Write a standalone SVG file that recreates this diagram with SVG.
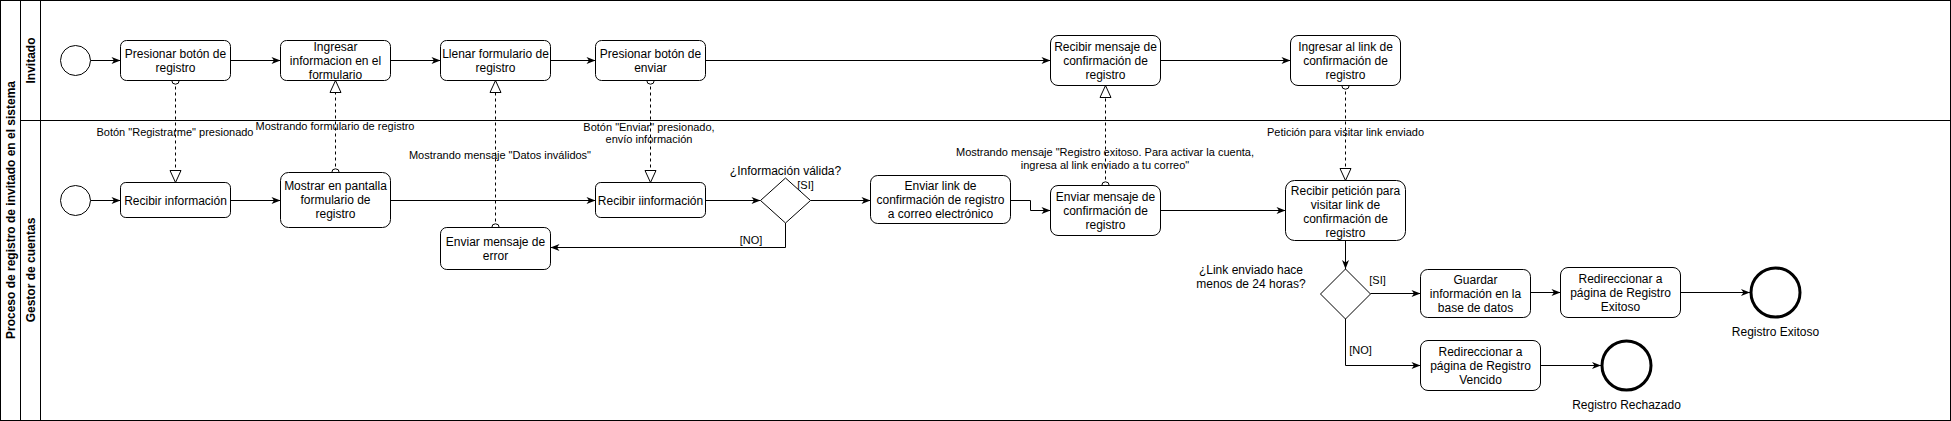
<svg xmlns="http://www.w3.org/2000/svg" width="1951" height="421" viewBox="0 0 1951 421">
<style>
  .box { fill: #ffffff; stroke: #000000; stroke-width: 1; }
  .ev { fill: #ffffff; stroke: #000000; stroke-width: 1; }
  .end { fill: #ffffff; stroke: #000000; stroke-width: 3; }
  .t { font-family: "Liberation Sans", Arial, Helvetica, sans-serif; font-size: 12px; fill: #000000; text-anchor: middle; }
  .lbl { font-family: "Liberation Sans", Arial, Helvetica, sans-serif; font-size: 11px; fill: #000000; text-anchor: middle; }
  .title { font-family: "Liberation Sans", Arial, Helvetica, sans-serif; font-size: 12px; font-weight: bold; fill: #000000; text-anchor: middle; dominant-baseline: central; }
  .flow { fill: none; stroke: #000000; stroke-width: 1; marker-end: url(#arr); }
  .msg { fill: none; stroke: #000000; stroke-width: 1; stroke-dasharray: 3 3; marker-start: url(#oval); marker-end: url(#open); }
  .frame { fill: none; stroke: #000000; stroke-width: 1; }
</style>
<defs>
  <marker id="arr" markerUnits="userSpaceOnUse" markerWidth="10" markerHeight="8" refX="9" refY="3.5" orient="auto" overflow="visible">
    <path d="M0,0 L9,3.5 L0,7 L2.5,3.5 Z" fill="#000000" stroke="none"/>
  </marker>
  <marker id="open" markerUnits="userSpaceOnUse" markerWidth="14" markerHeight="13" refX="12" refY="5.5" orient="auto" overflow="visible">
    <path d="M0,0 L12,5.5 L0,11 Z" fill="#ffffff" stroke="#000000" stroke-width="1" stroke-dasharray="none"/>
  </marker>
  <marker id="oval" markerUnits="userSpaceOnUse" markerWidth="10" markerHeight="10" refX="4.5" refY="4.5" orient="auto" overflow="visible">
    <circle cx="4.5" cy="4.5" r="3.7" fill="#ffffff" stroke="#000000" stroke-width="1" stroke-dasharray="none"/>
  </marker>
</defs>
<rect width="1951" height="421" fill="#ffffff"/>

<g id="pool">
  <rect class="frame" x="0.5" y="0.5" width="1950" height="420"/>
  <line class="frame" x1="20.5" y1="0.5" x2="20.5" y2="420.5"/>
  <line class="frame" x1="40.5" y1="0.5" x2="40.5" y2="420.5"/>
  <line class="frame" x1="20.5" y1="120.5" x2="1950.5" y2="120.5"/>
  <text class="title" transform="translate(11,210) rotate(-90)">Proceso de registro de invitado en el sistema</text>
</g>
<g id="lane-invitado">
  <text class="title" transform="translate(31,60.5) rotate(-90)">Invitado</text>
</g>
<g id="lane-gestor">
  <text class="title" transform="translate(31,270) rotate(-90)">Gestor de cuentas</text>
</g>

<g id="connectors">
  <path class="flow" d="M90.5,60.5 H120.5"/>
  <path class="flow" d="M230.5,60.5 H280.5"/>
  <path class="flow" d="M390.5,60.5 H440.5"/>
  <path class="flow" d="M550.5,60.5 H595.5"/>
  <path class="flow" d="M705.5,60.5 H1050.5"/>
  <path class="flow" d="M1160.5,60.5 H1290.5"/>
  <path class="flow" d="M90.5,200.5 H120.5"/>
  <path class="flow" d="M230.5,200.5 H280.5"/>
  <path class="flow" d="M390.5,200.5 H595.5"/>
  <path class="flow" d="M705.5,200.5 H760.5"/>
  <path class="flow" d="M810.5,200.5 H870.5"/>
  <path class="flow" d="M1010.5,200.5 H1030.5 V210.5 H1050.5"/>
  <path class="flow" d="M1160.5,210.5 H1285.5"/>
  <path class="flow" d="M785.5,223 V247.5 H550.5"/>
  <path class="flow" d="M1345.5,240.5 V269"/>
  <path class="flow" d="M1370.5,293.5 H1420.5"/>
  <path class="flow" d="M1530.5,292.5 H1560.5"/>
  <path class="flow" d="M1680.5,292.5 H1750"/>
  <path class="flow" d="M1345.5,319 V365.5 H1420.5"/>
  <path class="flow" d="M1540.5,365.5 H1601"/>

  <path class="msg" d="M175.5,80.5 V182.5"/>
  <path class="msg" d="M335.5,172.5 V80.5"/>
  <path class="msg" d="M495.5,227.5 V80.5"/>
  <path class="msg" d="M650.5,80.5 V182.5"/>
  <path class="msg" d="M1105.5,185.5 V85.5"/>
  <path class="msg" d="M1345.5,85.5 V180.5"/>

  <text class="lbl" x="175" y="136">Botón "Registrarme" presionado</text>
  <text class="lbl" x="335" y="130">Mostrando formulario de registro</text>
  <text class="lbl" x="500" y="159">Mostrando mensaje "Datos inválidos"</text>
  <text class="lbl" x="649" y="130.5">Botón "Enviar" presionado,</text>
  <text class="lbl" x="649" y="143">envío información</text>
  <text class="lbl" x="1105" y="156">Mostrando mensaje "Registro exitoso. Para activar la cuenta,</text>
  <text class="lbl" x="1105" y="169">ingresa al link enviado a tu correo"</text>
  <text class="lbl" x="1345.5" y="136">Petición para visitar link enviado</text>
  <text class="lbl" x="805.5" y="189">[SI]</text>
  <text class="lbl" x="751" y="244">[NO]</text>
  <text class="lbl" x="1377.5" y="284">[SI]</text>
  <text class="lbl" x="1360.5" y="354">[NO]</text>
</g>

<g id="start-invitado"><circle class="ev" cx="75.5" cy="60.5" r="15"/></g>
<g id="start-gestor"><circle class="ev" cx="75.5" cy="200.5" r="15"/></g>

<g id="presionar-registro">
  <rect class="box" x="120.5" y="40.5" width="110" height="40" rx="6"/>
  <text class="t" x="175.5" y="57.5">Presionar botón de<tspan x="175.5" dy="14">registro</tspan></text>
</g>
<g id="ingresar-info">
  <rect class="box" x="280.5" y="40.5" width="110" height="40" rx="6"/>
  <text class="t" x="335.5" y="50.5">Ingresar<tspan x="335.5" dy="14">informacion en el</tspan><tspan x="335.5" dy="14">formulario</tspan></text>
</g>
<g id="llenar-formulario">
  <rect class="box" x="440.5" y="40.5" width="110" height="40" rx="6"/>
  <text class="t" x="495.5" y="57.5">Llenar formulario de<tspan x="495.5" dy="14">registro</tspan></text>
</g>
<g id="presionar-enviar">
  <rect class="box" x="595.5" y="40.5" width="110" height="40" rx="6"/>
  <text class="t" x="650.5" y="57.5">Presionar botón de<tspan x="650.5" dy="14">enviar</tspan></text>
</g>
<g id="recibir-mensaje">
  <rect class="box" x="1050.5" y="35.5" width="110" height="50" rx="7.5"/>
  <text class="t" x="1105.5" y="50.5">Recibir mensaje de<tspan x="1105.5" dy="14">confirmación de</tspan><tspan x="1105.5" dy="14">registro</tspan></text>
</g>
<g id="ingresar-link">
  <rect class="box" x="1290.5" y="35.5" width="110" height="50" rx="7.5"/>
  <text class="t" x="1345.5" y="50.5">Ingresar al link de<tspan x="1345.5" dy="14">confirmación de</tspan><tspan x="1345.5" dy="14">registro</tspan></text>
</g>

<g id="recibir-informacion">
  <rect class="box" x="120.5" y="182.5" width="110" height="35" rx="5.25"/>
  <text class="t" x="175.5" y="204.5">Recibir información</text>
</g>
<g id="mostrar-formulario">
  <rect class="box" x="280.5" y="172.5" width="110" height="55" rx="8"/>
  <text class="t" x="335.5" y="190">Mostrar en pantalla<tspan x="335.5" dy="14">formulario de</tspan><tspan x="335.5" dy="14">registro</tspan></text>
</g>
<g id="recibir-iinformacion">
  <rect class="box" x="595.5" y="182.5" width="110" height="35" rx="5.25"/>
  <text class="t" x="650.5" y="204.5">Recibir iinformación</text>
</g>
<g id="enviar-error">
  <rect class="box" x="440.5" y="227.5" width="110" height="42" rx="6.3"/>
  <text class="t" x="495.5" y="245.5">Enviar mensaje de<tspan x="495.5" dy="14">error</tspan></text>
</g>
<g id="valida">
  <path class="box" d="M785.5,178 L810.5,200.5 L785.5,223 L760.5,200.5 Z"/>
  <text class="t" x="785.5" y="175">¿Información válida?</text>
</g>
<g id="enviar-link">
  <rect class="box" x="870.5" y="175.5" width="140" height="48" rx="7.2"/>
  <text class="t" x="940.5" y="189.5">Enviar link de<tspan x="940.5" dy="14">confirmación de registro</tspan><tspan x="940.5" dy="14">a correo electrónico</tspan></text>
</g>
<g id="enviar-mensaje">
  <rect class="box" x="1050.5" y="185.5" width="110" height="50" rx="7.5"/>
  <text class="t" x="1105.5" y="200.5">Enviar mensaje de<tspan x="1105.5" dy="14">confirmación de</tspan><tspan x="1105.5" dy="14">registro</tspan></text>
</g>
<g id="recibir-peticion">
  <rect class="box" x="1285.5" y="180.5" width="120" height="60" rx="9"/>
  <text class="t" x="1345.5" y="194.5">Recibir petición para<tspan x="1345.5" dy="14">visitar link de</tspan><tspan x="1345.5" dy="14">confirmación de</tspan><tspan x="1345.5" dy="14">registro</tspan></text>
</g>
<g id="link-24h">
  <path class="box" d="M1345.5,269 L1370.5,294 L1345.5,319 L1320.5,294 Z"/>
  <text class="t" x="1251" y="273.5">¿Link enviado hace<tspan x="1251" dy="14">menos de 24 horas?</tspan></text>
</g>
<g id="guardar">
  <rect class="box" x="1420.5" y="269.5" width="110" height="48" rx="7.2"/>
  <text class="t" x="1475.5" y="283.5">Guardar<tspan x="1475.5" dy="14">información en la</tspan><tspan x="1475.5" dy="14">base de datos</tspan></text>
</g>
<g id="redir-exitoso">
  <rect class="box" x="1560.5" y="267.5" width="120" height="50" rx="7.5"/>
  <text class="t" x="1620.5" y="282.5">Redireccionar a<tspan x="1620.5" dy="14">página de Registro</tspan><tspan x="1620.5" dy="14">Exitoso</tspan></text>
</g>
<g id="redir-vencido">
  <rect class="box" x="1420.5" y="340.5" width="120" height="50" rx="7.5"/>
  <text class="t" x="1480.5" y="355.5">Redireccionar a<tspan x="1480.5" dy="14">página de Registro</tspan><tspan x="1480.5" dy="14">Vencido</tspan></text>
</g>
<g id="end-exitoso">
  <circle class="end" cx="1775.5" cy="292.5" r="24.5"/>
  <text class="t" x="1775.5" y="335.5">Registro Exitoso</text>
</g>
<g id="end-rechazado">
  <circle class="end" cx="1626.5" cy="365.5" r="24.5"/>
  <text class="t" x="1626.5" y="408.5">Registro Rechazado</text>
</g>
</svg>
